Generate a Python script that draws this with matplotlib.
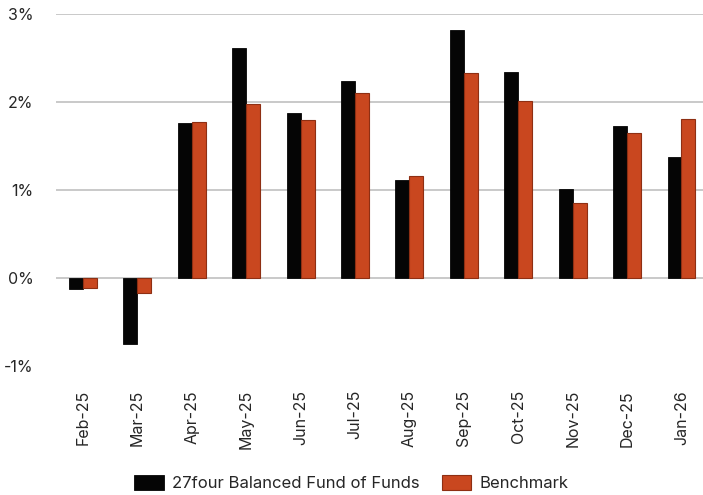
import matplotlib
matplotlib.use("Agg")
import matplotlib.pyplot as plt
import numpy as np
from matplotlib.ticker import FuncFormatter

months = ["Feb-25", "Mar-25", "Apr-25", "May-25", "Jun-25", "Jul-25",
          "Aug-25", "Sep-25", "Oct-25", "Nov-25", "Dec-25", "Jan-26"]
fund = [-0.12, -0.74, 1.76, 2.61, 1.87, 2.24, 1.11, 2.82, 2.34, 1.01, 1.73, 1.37]
bench = [-0.11, -0.17, 1.77, 1.98, 1.80, 2.10, 1.16, 2.33, 2.01, 0.85, 1.65, 1.81]
fund_name = "27four Balanced Fund of Funds"
bench_name = "Benchmark"

plt.rcParams['font.family'] = ['Inter', 'DejaVu Sans']

W, H = 703, 495
fig = plt.figure(figsize=(W / 100, H / 100), dpi=100)
left, right = 55.8, 708.7
top, bottom = 13.7, 366.5
ax = fig.add_axes([left / W, 1 - bottom / H, (right - left) / W, (bottom - top) / H])

x = np.arange(len(months))
bw = 0.257
ax.bar(x - bw / 2, fund, bw, color="#050505", edgecolor="#050505", linewidth=0.6,
       label=fund_name, zorder=3)
ax.bar(x + bw / 2, bench, bw, color="#C9471F", edgecolor="#8E2F13", linewidth=0.8,
       label=bench_name, zorder=3)

ax.set_xlim(-0.5, len(months) - 0.5)
ax.set_ylim(-1, 3)
ax.set_yticks([-1, 0, 1, 2, 3])
ax.yaxis.set_major_formatter(FuncFormatter(lambda v, p: f"{int(round(v))}%"))
ax.set_xticks(x)
ax.set_xticklabels(months, rotation=90)
ax.tick_params(axis="both", length=0, labelcolor="#262626")
ax.tick_params(axis="y", pad=16, labelsize=11.5)
ax.tick_params(axis="x", pad=17, labelsize=11.5)
for s in ax.spines.values():
    s.set_visible(False)
ax.yaxis.grid(True, color="#c9c9c9", linewidth=1.4, zorder=0)
ax.set_axisbelow(True)
fig.canvas.draw()
ax.get_ygridlines()[0].set_visible(False)

fig.legend(loc="center", bbox_to_anchor=(351.5 / W, 1 - 483 / H), ncol=2, frameon=False,
           fontsize=12, handlelength=1.75, handleheight=1.0, handletextpad=0.5,
           columnspacing=1.35, labelcolor="#262626")

fig.savefig("out.png", dpi=100)
